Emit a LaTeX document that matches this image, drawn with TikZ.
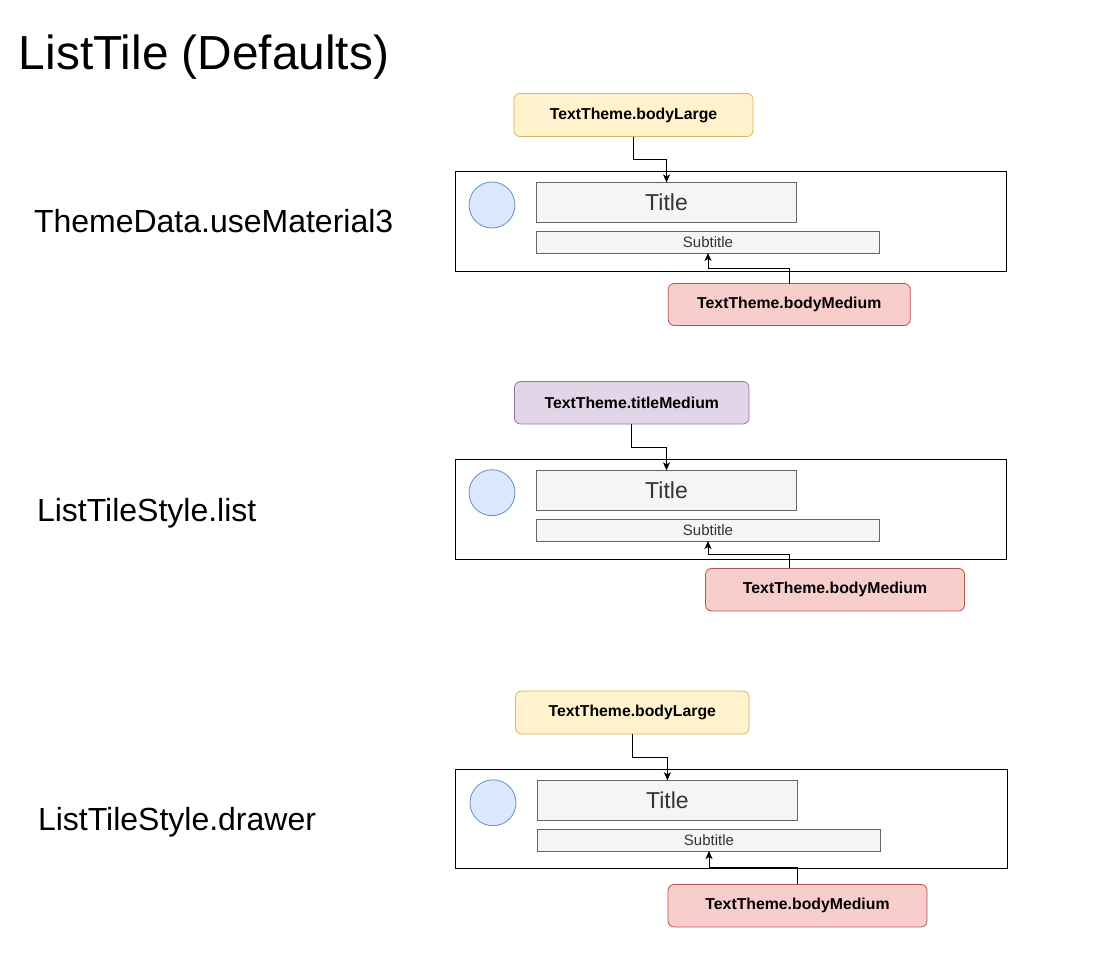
\documentclass[tikz,border=0pt]{standalone}
\usepackage{fontspec}
\setmainfont{Liberation Sans}
\usetikzlibrary{arrows.meta,calc}
\definecolor{ylfill}{HTML}{FFF2CC}
\definecolor{yldraw}{HTML}{D6B656}
\definecolor{pufill}{HTML}{E1D5E7}
\definecolor{pudraw}{HTML}{9673A6}
\definecolor{rdfill}{HTML}{F8CECC}
\definecolor{rddraw}{HTML}{B85450}
\definecolor{blfill}{HTML}{DAE8FC}
\definecolor{bldraw}{HTML}{6C8EBF}
\definecolor{gyfill}{HTML}{F5F5F5}
\definecolor{gydraw}{HTML}{666666}
\definecolor{gytext}{HTML}{333333}
\begin{document}
\begin{tikzpicture}[x=1pt,y=-1pt,
  every node/.style={inner sep=0pt,outer sep=0pt},
  themebox/.style={rectangle,rounded corners=6pt,line width=0.8pt,
    font=\fontsize{15.8}{18}\selectfont\bfseries},
  ylbox/.style={themebox,fill=ylfill,draw=yldraw},
  pubox/.style={themebox,fill=pufill,draw=pudraw},
  rdbox/.style={themebox,fill=rdfill,draw=rddraw},
  tilebox/.style={rectangle,draw=black,line width=1pt,minimum width=551pt,minimum height=99.5pt},
  avatar/.style={circle,fill=blfill,draw=bldraw,line width=0.8pt,minimum size=46pt},
  titlebox/.style={rectangle,fill=gyfill,draw=gydraw,line width=1pt,text=gytext,
    minimum width=260pt,minimum height=40pt,font=\fontsize{23}{26}\selectfont},
  subbox/.style={rectangle,fill=gyfill,draw=gydraw,line width=1pt,text=gytext,
    minimum width=343pt,minimum height=22pt,font=\fontsize{15}{17}\selectfont},
  rowlabel/.style={anchor=base west,font=\fontsize{32}{36}\selectfont},
  arr/.style={draw=black,line width=1pt,-{Stealth[length=8pt,width=7pt,inset=2pt]}}
]
\useasboundingbox (0,0) rectangle (1119,966);

\node[anchor=base west,font=\fontsize{47.8}{52}\selectfont] (head) at (19,70) {ListTile (Defaults)};

% ---------- panel 1 ----------
\node[rowlabel] (lab1) at (34,232) {ThemeData.useMaterial3};
\node[tilebox] (o1) at (730.5,221.25) {};
\node[ylbox,minimum width=239pt,minimum height=43pt] (y1) at (633.5,115) {TextTheme.bodyLarge};
\node[avatar] (c1) at (492,205) {};
\node[titlebox] (t1) at (666.5,202.4) {Title};
\node[subbox] (s1) at (708,242) {Subtitle};
\node[rdbox,minimum width=242pt,minimum height=42pt] (r1) at (789.25,304.5) {TextTheme.bodyMedium};
\draw[arr] (y1.south) |- ($(y1.south)!.5!(t1.north)$) -| (t1.north);
\draw[arr] (r1.north) |- ($(r1.north)!.5!(s1.south)$) -| (s1.south);

% ---------- panel 2 ----------
\node[rowlabel] (lab2) at (37,521.7) {ListTileStyle.list};
\node[tilebox] (o2) at (730.5,509.25) {};
\node[pubox,minimum width=234.5pt,minimum height=42.5pt] (p2) at (631.75,402.75) {TextTheme.titleMedium};
\node[avatar] (c2) at (492,492.7) {};
\node[titlebox] (t2) at (666.5,490.3) {Title};
\node[subbox] (s2) at (708,530) {Subtitle};
\node[rdbox,minimum width=259pt,minimum height=42.5pt] (r2) at (835,589.7) {TextTheme.bodyMedium};
\coordinate (r2out) at ([xshift=-46pt]r2.north);
\draw[arr] (p2.south) |- ($(p2.south)!.5!(t2.north)$) -| (t2.north);
\draw[arr] (r2out) |- ($(r2out)!.5!(s2.south)$) -| (s2.south);

% ---------- panel 3 ----------
\node[rowlabel] (lab3) at (38,830) {ListTileStyle.drawer};
\node[tilebox,minimum width=552pt] (o3) at (731.5,819) {};
\node[ylbox,minimum width=233.5pt,minimum height=43pt] (y3) at (632.25,712.5) {TextTheme.bodyLarge};
\node[avatar] (c3) at (493,802.8) {};
\node[titlebox] (t3) at (667.4,800.3) {Title};
\node[subbox] (s3) at (709,840) {Subtitle};
\node[rdbox,minimum width=259pt,minimum height=42.5pt] (r3) at (797.5,905.7) {TextTheme.bodyMedium};
\draw[arr] (y3.south) |- ($(y3.south)!.5!(t3.north)$) -| (t3.north);
\draw[arr] (r3.north) |- ($(r3.north)!.5!(s3.south)$) -| (s3.south);
\end{tikzpicture}
\end{document}
